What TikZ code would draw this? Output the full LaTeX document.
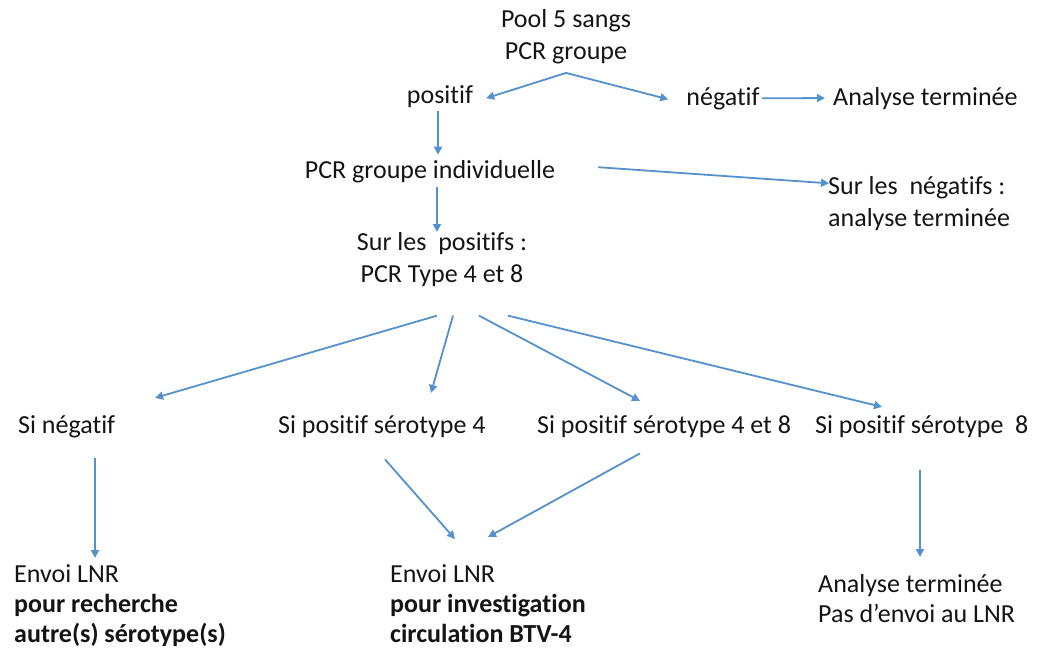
\documentclass[tikz,border=0pt]{standalone}
\usepackage{fontspec}
\setmainfont{Carlito}[Ligatures=NoCommon]
\usetikzlibrary{arrows.meta}
\definecolor{arrblue}{RGB}{84,145,205}
\definecolor{txtcol}{RGB}{20,20,20}
\begin{document}
\begin{tikzpicture}[x=1pt,y=-1pt,
  txt/.style={inner sep=0pt,text=txtcol,font=\fontsize{26}{32}\selectfont},
  btxt/.style={inner sep=0pt,text=txtcol,font=\fontsize{26}{30}\selectfont,align=left},
  arr/.style={draw=arrblue,line width=1.8pt,-{Triangle[length=8pt,width=8pt]}}]
\useasboundingbox (0,0) rectangle (1061,648);
% top
\node[txt,align=center,anchor=north] (pool) at (566,9) {Pool 5 sangs\\PCR groupe};
\node[txt,anchor=base] (pos) at (440,103) {positif};
\node[txt,anchor=base] (neg) at (723,105) {négatif};
\node[txt,anchor=base west] (fin1) at (833,105) {Analyse terminée};
\node[txt,anchor=base] (indiv) at (430,178) {PCR groupe individuelle};
\node[txt,align=left,anchor=north west] (surneg) at (828,176) {Sur les\ \ négatifs :\\analyse terminée};
\node[txt,align=center,anchor=north] (surpos) at (442,232) {Sur les\ \ positifs :\\PCR Type 4 et 8};
% level 3
\node[txt,anchor=base west] (sineg) at (18,433) {Si négatif};
\node[txt,anchor=base west] (si4) at (278,433) {Si positif sérotype 4};
\node[txt,anchor=base west] (si48) at (537,433) {Si positif sérotype 4 et 8};
\node[txt,anchor=base west] (si8) at (815,433) {Si positif sérotype\ \ 8};
% bottom
\node[btxt,anchor=north west] (env1) at (14,564) {Envoi LNR\\\textbf{pour recherche}\\\textbf{autre(s) sérotype(s)}};
\node[btxt,anchor=north west] (env2) at (390,564) {Envoi LNR\\\textbf{pour investigation}\\\textbf{circulation BTV-4}};
\node[btxt,anchor=north west] (fin2) at (818,574) {Analyse terminée\\Pas d’envoi au LNR};
% connectors
\draw[arr] ([yshift=-9pt]pool.south) -- ([xshift=13pt,yshift=-2pt]pos.east);
\draw[arr] ([yshift=-9pt]pool.south) -- ([xshift=-18pt,yshift=-1pt]neg.west);
\draw[arr] ([xshift=2pt,yshift=0pt]neg.east) -- ([xshift=-8pt,yshift=0pt]fin1.west);
\draw[arr] ([xshift=-2pt,yshift=-4pt]pos.south) -- ([xshift=8pt,yshift=5pt]indiv.north);
\draw[arr] ([xshift=43pt,yshift=4pt]indiv.east) -- ([xshift=1pt,yshift=20pt]surneg.west);
\draw[arr] ([xshift=7pt,yshift=-4pt]indiv.south) -- ([xshift=-5pt,yshift=0pt]surpos.north);
\draw[arr] ([xshift=-5pt,yshift=-29pt]surpos.south) -- ([xshift=137pt,yshift=17pt]sineg.north west);
\draw[arr] ([xshift=11pt,yshift=-29pt]surpos.south) -- ([xshift=153pt,yshift=22pt]si4.north west);
\draw[arr] ([xshift=37pt,yshift=-29pt]surpos.south) -- ([xshift=103pt,yshift=14pt]si48.north west);
\draw[arr] ([xshift=66pt,yshift=-29pt]surpos.south) -- ([xshift=67pt,yshift=8pt]si8.north west);
\draw[arr] ([xshift=77pt,yshift=-20pt]sineg.south west) -- ([xshift=81pt,yshift=6pt]env1.north west);
\draw[arr] ([xshift=107pt,yshift=-22pt]si4.south west) -- ([xshift=65pt,yshift=25pt]env2.north west);
\draw[arr] ([xshift=103pt,yshift=-16pt]si48.south west) -- ([xshift=98pt,yshift=27pt]env2.north west);
\draw[arr] ([xshift=105pt,yshift=-33pt]si8.south west) -- ([xshift=102pt,yshift=17pt]fin2.north west);
\end{tikzpicture}
\end{document}
